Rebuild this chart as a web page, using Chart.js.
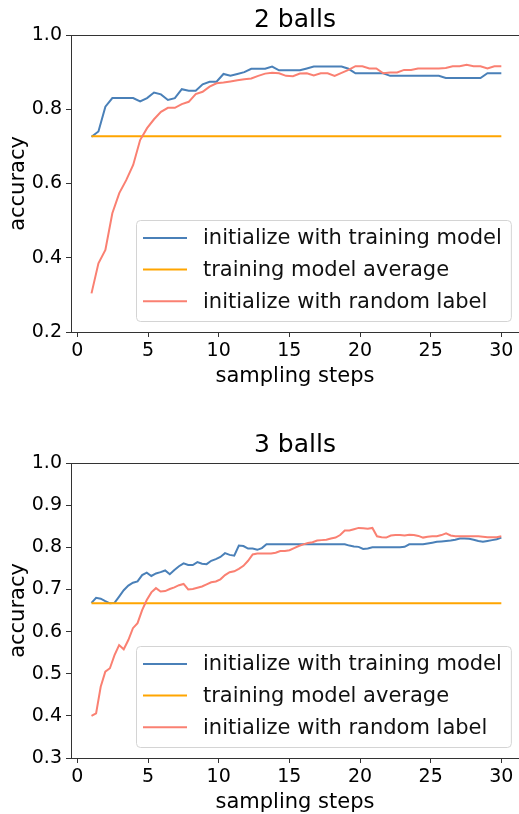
<!DOCTYPE html>
<html>
<head>
<meta charset="utf-8">
<script src="https://cdn.jsdelivr.net/npm/chart.js@4.4.0/dist/chart.umd.min.js"></script>
<style>
  body { margin: 0; background: #fff; overflow: hidden; }
  #wrap { position: relative; width: 519px; height: 814px; }
  canvas { position: absolute; left: 0; }
  #chart2 { top: 0; }
  #chart3 { top: 390px; }
</style>
</head>
<body>
<div id="wrap">
  <canvas id="chart2" width="519" height="390"></canvas>
  <canvas id="chart3" width="519" height="424"></canvas>
</div>
<script>
// sampling steps run 1..30 on the x axis
var lastStep = 30;
var xTicks = [0, 5, 10, 15, 20, 25, 30];
var yTicks2 = [0.2, 0.4, 0.6, 0.8, 1.0];
var yTicks3 = [0.3, 0.4, 0.5, 0.6, 0.7, 0.8, 0.9, 1.0];
var seriesNames = ['initialize with training model', 'training model average', 'initialize with random label'];
var seriesColors = ['#4a80b8', '#ffa500', '#fa8072'];

// 2 balls
var train2 = [
  0.726, 0.740, 0.807, 0.830, 0.830, 0.830, 0.830, 0.821, 0.830, 0.845,
  0.840, 0.825, 0.830, 0.854, 0.850, 0.850, 0.867, 0.874, 0.874, 0.895,
  0.890, 0.895, 0.900, 0.909, 0.909, 0.909, 0.915, 0.905, 0.905, 0.905,
  0.905, 0.910, 0.915, 0.915, 0.915, 0.915, 0.915, 0.909, 0.897, 0.897,
  0.897, 0.897, 0.897, 0.890, 0.890, 0.890, 0.890, 0.890, 0.890, 0.890,
  0.890, 0.884, 0.884, 0.884, 0.884, 0.884, 0.884, 0.897, 0.897, 0.897
];
var avg2 = 0.727;
var random2 = [
  0.304, 0.385, 0.421, 0.520, 0.574, 0.609, 0.650, 0.717, 0.749, 0.773,
  0.793, 0.804, 0.804, 0.814, 0.820, 0.841, 0.847, 0.861, 0.870, 0.872,
  0.875, 0.878, 0.881, 0.883, 0.890, 0.896, 0.898, 0.897, 0.890, 0.889,
  0.896, 0.897, 0.891, 0.897, 0.897, 0.890, 0.898, 0.906, 0.916, 0.916,
  0.910, 0.910, 0.897, 0.899, 0.899, 0.906, 0.906, 0.910, 0.910, 0.910,
  0.910, 0.911, 0.916, 0.916, 0.920, 0.916, 0.916, 0.910, 0.916, 0.916
];

// 3 balls
var train3 = [
  0.668, 0.680, 0.678, 0.672, 0.667, 0.668, 0.683, 0.698, 0.709, 0.716,
  0.719, 0.734, 0.740, 0.732, 0.738, 0.741, 0.745, 0.736, 0.746, 0.755,
  0.762, 0.758, 0.758, 0.765, 0.761, 0.760, 0.768, 0.772, 0.777, 0.786,
  0.782, 0.780, 0.804, 0.803, 0.797, 0.797, 0.794, 0.798, 0.807, 0.807,
  0.807, 0.807, 0.807, 0.807, 0.807, 0.807, 0.807, 0.807, 0.807, 0.807,
  0.807, 0.807, 0.807, 0.807, 0.807, 0.807, 0.804, 0.802, 0.801, 0.796,
  0.797, 0.800, 0.800, 0.800, 0.800, 0.800, 0.800, 0.800, 0.801, 0.807,
  0.807, 0.807, 0.807, 0.809, 0.811, 0.813, 0.814, 0.815, 0.816, 0.818,
  0.821, 0.821, 0.820, 0.818, 0.815, 0.813, 0.815, 0.817, 0.819, 0.823
];
var avg3 = 0.667;
var random3 = [
  0.400, 0.406, 0.469, 0.505, 0.513, 0.544, 0.568, 0.558, 0.580, 0.608,
  0.620, 0.651, 0.675, 0.693, 0.703, 0.695, 0.696, 0.701, 0.705, 0.710,
  0.713, 0.700, 0.701, 0.704, 0.707, 0.712, 0.717, 0.719, 0.724, 0.734,
  0.741, 0.743, 0.749, 0.756, 0.768, 0.783, 0.785, 0.785, 0.785, 0.785,
  0.787, 0.791, 0.791, 0.793, 0.798, 0.803, 0.807, 0.810, 0.812, 0.816,
  0.817, 0.818, 0.821, 0.823, 0.829, 0.840, 0.840, 0.843, 0.846, 0.845,
  0.844, 0.846, 0.826, 0.824, 0.823, 0.828, 0.829, 0.829, 0.828, 0.830,
  0.829, 0.827, 0.823, 0.825, 0.826, 0.826, 0.829, 0.833, 0.828, 0.826,
  0.826, 0.826, 0.826, 0.826, 0.826, 0.825, 0.824, 0.824, 0.824, 0.826
];

Chart.defaults.font.family = '"DejaVu Sans", sans-serif';
Chart.defaults.color = '#000';

// spread the samples evenly over steps 1..30
function toPoints(vals) {
  return vals.map(function(v, i) {
    return { x: 1 + i * (lastStep - 1) / (vals.length - 1), y: v };
  });
}

// top spine (matplotlib draws a frame)
var topLine = {
  id: 'topLine',
  afterDraw: function(chart) {
    var ctx = chart.ctx, a = chart.chartArea;
    var y = Math.round(a.top) + 0.5;
    ctx.save();
    ctx.strokeStyle = '#333';
    ctx.lineWidth = 1;
    ctx.beginPath();
    ctx.moveTo(a.left, y);
    ctx.lineTo(a.right, y);
    ctx.stroke();
    ctx.restore();
  }
};

// legend box in the lower right of the axes
var boxLegend = {
  id: 'boxLegend',
  afterDraw: function(chart) {
    var ctx = chart.ctx, a = chart.chartArea;
    var sets = chart.data.datasets;
    ctx.save();
    ctx.font = '21px "DejaVu Sans"';
    var textW = 0;
    sets.forEach(function(d) { textW = Math.max(textW, ctx.measureText(d.label).width); });
    var w = 67 + textW + 9;
    var h = 101;
    var right = a.right - 8;
    var bottom = a.bottom - 11;
    var left = Math.round(right - w), top = Math.round(bottom - h);
    ctx.beginPath();
    ctx.roundRect(left + 0.5, top + 0.5, w, h, 4);
    ctx.fillStyle = 'rgba(255,255,255,0.8)';
    ctx.fill();
    ctx.strokeStyle = '#d4d4d4';
    ctx.lineWidth = 1;
    ctx.stroke();
    sets.forEach(function(d, i) {
      var y = top + 18 + i * 31.6;
      ctx.strokeStyle = d.borderColor;
      ctx.lineWidth = 2;
      ctx.beginPath();
      ctx.moveTo(left + 7, y);
      ctx.lineTo(left + 51, y);
      ctx.stroke();
      ctx.fillStyle = '#111';
      ctx.textBaseline = 'middle';
      ctx.fillText(d.label, left + 67, y + 1);
    });
    ctx.restore();
  }
};

function makeChart(id, cfg) {
  var ctx = document.getElementById(id);
  return new Chart(ctx, {
    type: 'line',
    data: {
      datasets: [
        { label: seriesNames[0], data: toPoints(cfg.train), borderColor: seriesColors[0], order: 2 },
        { label: seriesNames[1], data: [{ x: 1, y: cfg.avg }, { x: lastStep, y: cfg.avg }], borderColor: seriesColors[1], order: 1 },
        { label: seriesNames[2], data: toPoints(cfg.random), borderColor: seriesColors[2], order: 0 }
      ]
    },
    options: {
      responsive: false,
      animation: false,
      events: [],
      layout: { padding: 0 },
      elements: {
        line: { borderWidth: 2, tension: 0, fill: false },
        point: { radius: 0 }
      },
      plugins: {
        legend: { display: false },
        tooltip: { enabled: false },
        title: {
          display: true,
          text: cfg.title,
          fullSize: false,
          font: { size: 25, weight: 'normal', lineHeight: 1 },
          padding: cfg.titlePad
        }
      },
      scales: {
        x: {
          type: 'linear',
          min: -0.45,
          max: 31.25,
          afterBuildTicks: function(s) { s.ticks = xTicks.map(function(v) { return { value: v }; }); },
          afterFit: function(s) { s.height = cfg.xHeight; },
          ticks: { font: { size: 19, lineHeight: 1 }, padding: 5, maxRotation: 0 },
          grid: { drawOnChartArea: false, drawTicks: true, tickLength: 5, tickColor: '#333' },
          border: { display: true, color: '#333', width: 1 },
          title: {
            display: true,
            text: 'sampling steps',
            font: { size: 21, lineHeight: 1 },
            padding: { top: 0, bottom: cfg.xTitleBottom }
          }
        },
        y: {
          min: cfg.yTicks[0],
          max: cfg.yTicks[cfg.yTicks.length - 1],
          afterBuildTicks: function(s) { s.ticks = cfg.yTicks.map(function(v) { return { value: v }; }); },
          afterFit: function(s) { s.width = 71; },
          ticks: {
            font: { size: 19, lineHeight: 1 },
            padding: 4,
            callback: function(v) { return v.toFixed(1); }
          },
          grid: { drawOnChartArea: false, drawTicks: true, tickLength: 5, tickColor: '#333' },
          border: { display: true, color: '#333', width: 1 },
          title: {
            display: true,
            text: 'accuracy',
            font: { size: 21, lineHeight: 1 },
            padding: { top: 8, bottom: 0 }
          }
        }
      }
    },
    plugins: [topLine, boxLegend]
  });
}

makeChart('chart2', {
  title: '2 balls', train: train2, avg: avg2, random: random2, yTicks: yTicks2,
  titlePad: { top: 8, bottom: 2 }, xHeight: 58, xTitleBottom: 3
});
makeChart('chart3', {
  title: '3 balls', train: train3, avg: avg3, random: random3, yTicks: yTicks3,
  titlePad: { top: 43, bottom: 5 }, xHeight: 56, xTitleBottom: 1
});
</script>
</body>
</html>
